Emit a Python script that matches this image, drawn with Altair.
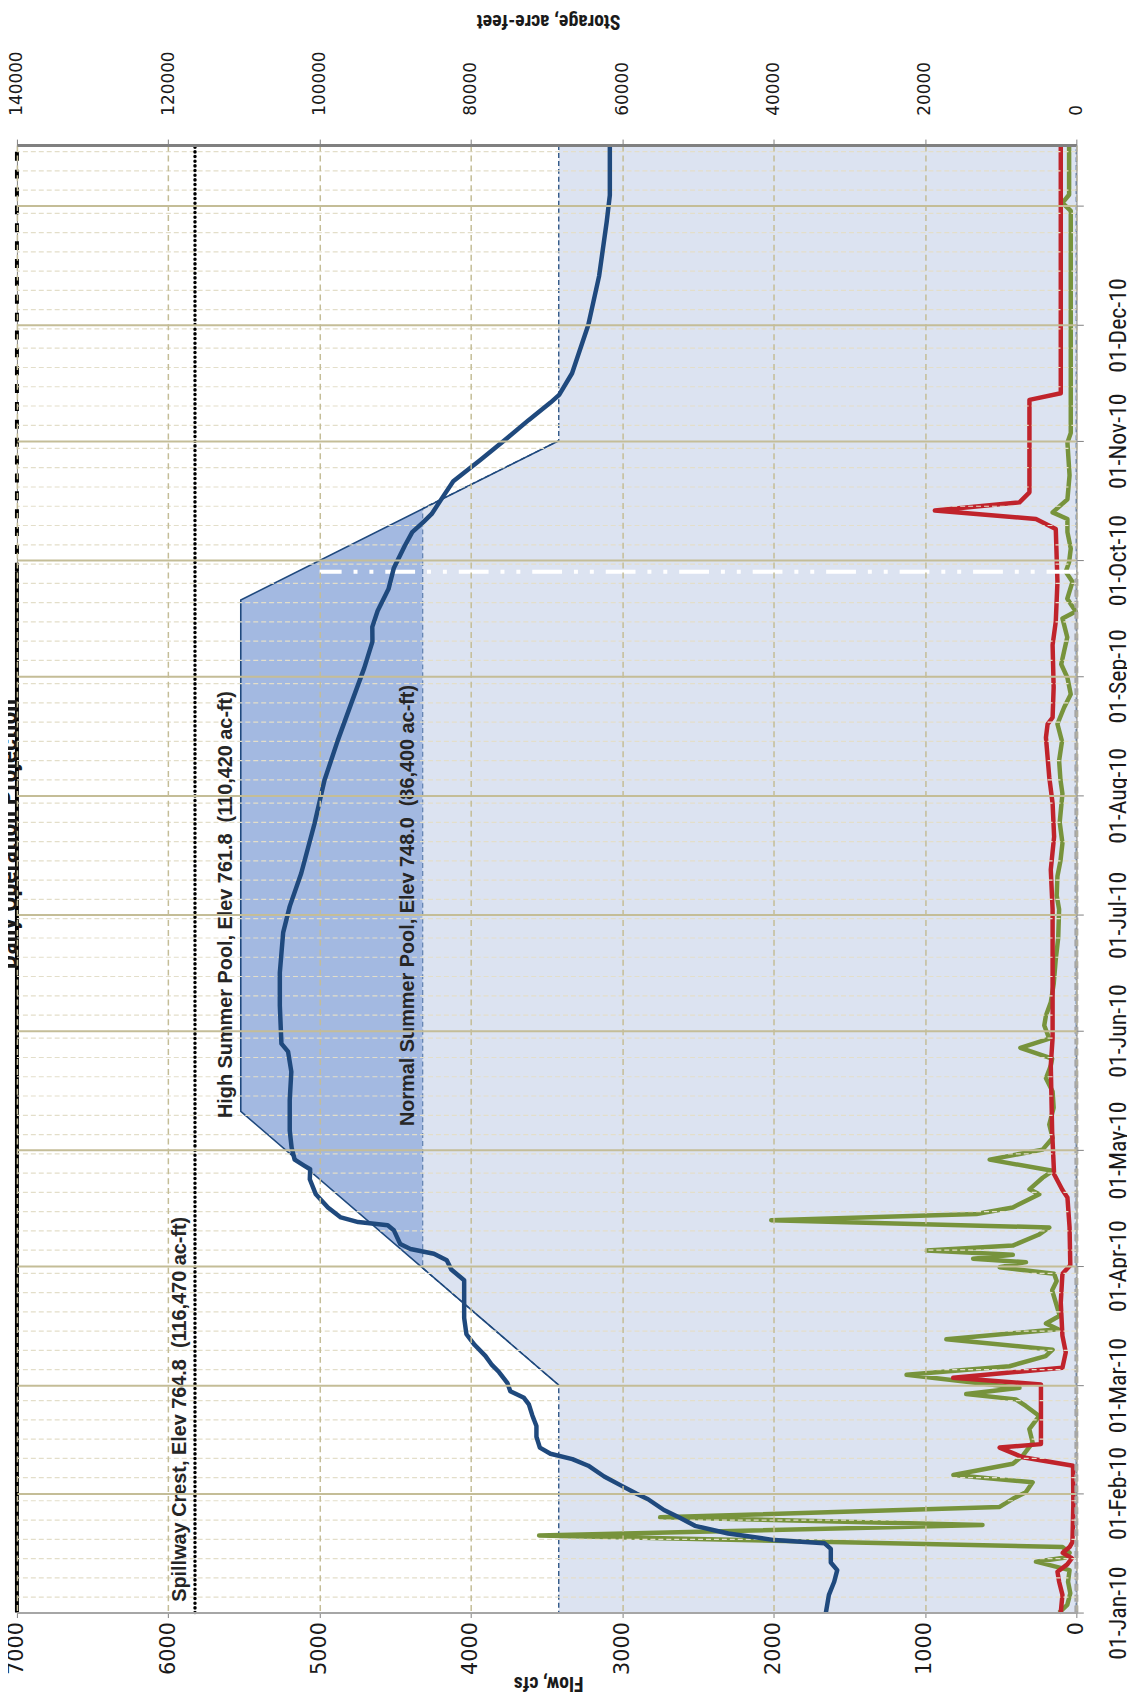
import altair as alt
import pandas as pd

BASE = pd.Timestamp("2010-01-01")


def to_dates(days):
    return [(BASE + pd.Timedelta(days=float(x))).strftime("%Y-%m-%dT%H:%M:%SZ") for x in days]


# ---------------- data ----------------
# Storage (acre-feet), secondary axis
STORAGE_DAYS = [0, 4.6, 8, 11, 13, 16.5, 18, 18.8, 20.5, 22.5, 24.6, 26.6, 29.4, 30.8, 33, 35.3,
                38.1, 39.8, 41.2, 42.8, 45.6, 48.4, 51.2, 54, 55.7, 57.4, 59.6, 62.4, 64.4, 66.6,
                69.4, 72.2, 76.4, 86.2, 89, 91.4, 93.1, 94.3, 95.6, 99.2, 100.5, 101.3, 102.5,
                105.1, 108.5, 112.4, 115, 115.9, 117.5, 120.6, 125, 133, 140.3, 145.5, 147.6,
                157.5, 166, 176.4, 183.2, 191.8, 204.7, 215.9, 226.2, 235.6, 245, 251.9, 255.7,
                259.9, 265.5, 271, 276.7, 280.3, 282.8, 285, 289.3, 293.5, 299, 304.7, 309.4,
                313.9, 315.9, 321.5, 334, 346.7, 360.7, 367.7, 380.7]
STORAGE_ACFT = [33100, 32700, 32000, 31600, 32450, 32450, 33300, 39900, 46000, 50400, 52400, 54500,
                56600, 58100, 60200, 62400, 64500, 66600, 69500, 70900, 71350, 71350, 71900, 72350,
                73000, 74800, 75200, 76300, 77300, 78100, 79500, 80600, 80900, 80900, 82600, 83200,
                84900, 88000, 89350, 90200, 91000, 94900, 97200, 98900, 100500, 101300, 101250,
                102000, 103300, 103700, 103950, 103950, 103740, 104170, 105050, 105260, 105260,
                104820, 103950, 102430, 100670, 99360, 97610, 95870, 94110, 93020, 93040, 92330,
                90900, 90190, 88760, 87760, 86330, 85190, 83760, 82340, 78770, 75200, 72350, 69490,
                68350, 66640, 64500, 63070, 62070, 61650, 61650]

# Inflow (cfs), primary axis
INFLOW_DAYS = [0, 2, 5, 8, 11, 13.2, 14.3, 15.5, 17, 20, 22.7, 24.7, 27.4, 29.5, 31.2, 33.8, 35.7,
               38.6, 40.7, 44.1, 47.6, 51, 53.6, 55.3, 56.7, 58.3, 61.7, 63.9, 66.5, 68.2, 70.9,
               73.5, 75, 77, 83.6, 86, 87.9, 89.6, 90.9, 91.8, 92.8, 93.9, 95.2, 98, 99.9, 101.8,
               103.4, 105.1, 108.5, 109.8, 112.8, 114.6, 117.5, 120.1, 123.1, 126.6, 131, 135.2,
               138.6, 142, 143.7, 146.5, 148.9, 152.3, 154.9, 158.3, 163, 169.5, 175, 182.4, 186,
               191, 195, 199.6, 205, 212.4, 216, 221, 226, 230.5, 234.8, 238.2, 242.5, 246, 249.4,
               253, 257.9, 259.7, 263, 267.4, 270, 272.5, 276, 280.3, 283.7, 285.4, 288.8, 295,
               303.5, 306, 335, 363.6, 365.7, 367.8, 380.7]
INFLOW_CFS = [114, 60, 40, 55, 45, 267, 70, 45, 92, 3550, 620, 2750, 507, 420, 334, 289, 813, 420,
              354, 289, 311, 245, 334, 400, 728, 376, 1122, 442, 203, 157, 859, 120, 201, 110, 160,
              130, 147, 507, 333, 682, 420, 989, 420, 250, 179, 2016, 660, 420, 245, 310, 223, 157,
              573, 223, 157, 179, 150, 157, 201, 168, 160, 370, 179, 212, 201, 169, 150, 136, 120,
              114, 130, 125, 105, 92, 110, 92, 105, 114, 95, 125, 81, 37, 59, 100, 81, 60, 92, 4,
              60, 26, 70, 48, 37, 59, 59, 157, 59, 45, 59, 37, 37, 37, 92, 48, 48]

# Outflow (cfs), primary axis
OUTFLOW_DAYS = [0, 4.6, 8, 10.6, 12.5, 14.1, 15.5, 17, 18.3, 28, 38.1, 40.3, 42.8, 43.7, 50, 59.2,
                60.9, 63.5, 67.5, 71.8, 80.4, 87.9, 90.1, 100, 107.7, 109.6, 113.7, 124.8, 142,
                149, 165, 182.4, 192.7, 201.3, 209.9, 216.7, 227, 230.5, 232.2, 240, 251, 257.1,
                267.4, 281.1, 283.7, 285.9, 288, 290.6, 314.6, 316.3, 340, 380.7]
OUTFLOW_CFS = [103, 92, 114, 125, 60, 30, 90, 45, 26, 20, 22, 354, 507, 234, 234, 234, 814, 92, 70,
               92, 103, 92, 40, 45, 59, 92, 147, 160, 169, 157, 157, 157, 169, 147, 157, 179, 201,
               190, 157, 150, 157, 136, 125, 136, 267, 935, 376, 310, 310, 103, 103, 103]

# Rule curves (acre-feet)
NORMAL_DAYS = [0, 59, 89.4, 286.4, 304, 380.7]
NORMAL_ACFT = [68400, 68400, 86400, 86400, 68400, 68400]
BAND_DAYS = [59, 89.4, 130, 262.7, 286.4, 304]
BAND_LOW = [68400, 86400, 86400, 86400, 86400, 68400]
BAND_HIGH = [68400, 86400, 110420, 110420, 86400, 68400]
HIGH_DAYS = [59, 130, 262.7, 304]
HIGH_ACFT = [68400, 110420, 110420, 68400]

SPILLWAY_ACFT = 116470
PERIOD_DAYS = [0, 380.7]
TODAY_DAY = 270
TODAY_CFS = [0, 5000]
FLOW_MAX = 7000

ANNOT_TEXT = ["Spillway Crest, Elev 764.8 \u00a0(116,470 ac-ft)",
              "High Summer Pool, Elev 761.8 \u00a0(110,420 ac-ft)",
              "Normal Summer Pool, Elev 748.0 \u00a0(86,400 ac-ft)"]
ANNOT_ACFT = [116470, 110420, 86400]
ANNOT_DAY = [2.8, 128.3, 126.2]

TITLE = "Daily Operation Projection"
FLOW_TICKS = [0, 1000, 2000, 3000, 4000, 5000, 6000, 7000]
STORAGE_TICKS = [0, 20000, 40000, 60000, 80000, 100000, 120000, 140000]

# ---------------- frames ----------------
storage_df = pd.DataFrame({"date": to_dates(STORAGE_DAYS), "day": STORAGE_DAYS, "acft": STORAGE_ACFT})
inflow_df = pd.DataFrame({"date": to_dates(INFLOW_DAYS), "day": INFLOW_DAYS, "cfs": INFLOW_CFS})
outflow_df = pd.DataFrame({"date": to_dates(OUTFLOW_DAYS), "day": OUTFLOW_DAYS, "cfs": OUTFLOW_CFS})
normal_df = pd.DataFrame({"date": to_dates(NORMAL_DAYS), "day": NORMAL_DAYS, "acft": NORMAL_ACFT})
band_df = pd.DataFrame({"date": to_dates(BAND_DAYS), "day": BAND_DAYS, "acft": BAND_LOW, "acft2": BAND_HIGH})
high_df = pd.DataFrame({"date": to_dates(HIGH_DAYS), "day": HIGH_DAYS, "acft": HIGH_ACFT})
spill_df = pd.DataFrame({"date": to_dates(PERIOD_DAYS), "day": PERIOD_DAYS, "acft": [SPILLWAY_ACFT] * 2})
edge_solid_df = pd.DataFrame({"date": to_dates([0, TODAY_DAY]), "day": [0, TODAY_DAY]})
edge_dash_df = pd.DataFrame({"date": to_dates([TODAY_DAY, PERIOD_DAYS[1]]), "day": [TODAY_DAY, PERIOD_DAYS[1]]})
today_df = pd.DataFrame({"date": to_dates([TODAY_DAY]), "cfs": [TODAY_CFS[0]], "cfs2": [TODAY_CFS[1]]})
annot_df = pd.DataFrame({"date": to_dates(ANNOT_DAY), "acft": ANNOT_ACFT, "t": ANNOT_TEXT})
title_df = pd.DataFrame({"t": [TITLE]})

month_starts = pd.date_range("2010-01-01", "2011-01-01", freq="MS")
minor_dates = []
for ms in month_starts:
    for dd in [5, 10, 15, 20, 25, 30]:
        if dd <= ms.days_in_month:
            dt = ms.replace(day=dd)
            if dt <= pd.Timestamp("2011-01-16"):
                minor_dates.append(dt.strftime("%Y-%m-%dT00:00:00Z"))
minor_df = pd.DataFrame({"date": minor_dates})

# ---------------- scales & axes ----------------
NARROW = "Liberation Sans Narrow, Roboto Condensed, DejaVu Sans Condensed, sans-serif"
WIDE = "DejaVu Sans, Verdana, sans-serif"
ANNOT_FONT = "Liberation Sans, Arial, sans-serif"

y_scale = alt.Scale(type="utc", nice=False,
                    domain=[alt.DateTime(year=2010, month=1, date=1, utc=True),
                            alt.DateTime(year=2011, month=1, date=16, hours=16, minutes=48, utc=True)])
y_axis = alt.Axis(orient="right", title=None,
                  values=[alt.DateTime(year=ms.year, month=ms.month, date=1, utc=True) for ms in month_starts],
                  labelExpr="utcyear(datum.value) > 2010 ? '' : utcFormat(datum.value, '%d-%b-%y')",
                  labelAngle=270, labelAlign="center", labelBaseline="top", labelPadding=23,
                  labelFont=NARROW, labelFontSize=24, labelColor="#1a1a1a", labelOverlap=False,
                  tickSize=7, tickColor="#808080", domainColor="#A6A6A6", domainWidth=1,
                  grid=True, gridColor="#C4BD97", gridWidth=2, zindex=1)


def Y():
    return alt.Y("date:T", scale=y_scale, axis=y_axis)


flow_scale = alt.Scale(domain=[0, FLOW_MAX], reverse=True, nice=False, zero=True)
flow_axis = alt.Axis(orient="bottom", values=FLOW_TICKS, format="d",
                     labelAngle=270, labelAlign="right", labelBaseline="middle", labelPadding=4,
                     labelFont=WIDE, labelFontSize=21, labelColor="#1a1a1a",
                     labelFlush=False, labelOverlap=False,
                     tickSize=5, tickColor="#808080", domainColor="#A6A6A6", domainWidth=2,
                     grid=True, gridColor="#C4BD97", gridDash=[6, 4], gridWidth=1.5,
                     title="Flow, cfs", titleAngle=180, titleX=535, titleY=70,
                     titleAlign="center", titleBaseline="middle", titleFont=NARROW,
                     titleFontSize=20, titleFontWeight="bold", titleColor="#1a1a1a", zindex=1)

stor_scale = alt.Scale(domain=[0, 140000], reverse=True, nice=False, zero=True)
stor_axis = alt.Axis(orient="top", values=STORAGE_TICKS, format="d",
                     labelAngle=270, labelAlign="left", labelBaseline="middle", labelPadding=24,
                     labelFont=WIDE, labelFontSize=17, labelColor="#1a1a1a",
                     labelFlush=False, labelOverlap=False,
                     tickSize=6, tickColor="#808080", domainColor="#808080", domainWidth=3,
                     grid=False,
                     title="Storage, acre-feet", titleAngle=180, titleX=535, titleY=-125,
                     titleAlign="center", titleBaseline="middle", titleFont=NARROW,
                     titleFontSize=20, titleFontWeight="bold", titleColor="#1a1a1a", zindex=1)


def XF(field="cfs"):
    return alt.X(f"{field}:Q", scale=flow_scale, axis=flow_axis)


def XS(field="acft", axis=True):
    return alt.X(f"{field}:Q", scale=stor_scale, axis=stor_axis if axis else None)


NAVY = "#1F497D"

# ---------------- storage (under) ----------------
light_area = alt.Chart(normal_df).mark_area(
    orient="horizontal", color="#DCE3F1", stroke=NAVY, strokeWidth=1.3, strokeDash=[5, 3]
).encode(y=Y(), x=XS(), x2=alt.datum(0))

band_area = alt.Chart(band_df).mark_area(
    orient="horizontal", color="#A3B9E1"
).encode(y=Y(), x=XS(), x2="acft2:Q")

high_edge = alt.Chart(high_df).mark_line(color=NAVY, strokeWidth=1.6).encode(
    y=Y(), x=XS(), order="day:Q")

storage_under = alt.layer(light_area, band_area, high_edge)

# ---------------- flow ----------------
green = alt.Chart(inflow_df).mark_line(color="#77933C", strokeWidth=4.5, strokeJoin="round").encode(
    y=Y(), x=XF(), order="day:Q")
red = alt.Chart(outflow_df).mark_line(color="#C0232B", strokeWidth=4.5, strokeJoin="round").encode(
    y=Y(), x=XF(), order="day:Q")
edge_black_solid = alt.Chart(edge_solid_df).mark_line(color="black", strokeWidth=4).encode(
    y=Y(), x=alt.X("fmax:Q", scale=flow_scale, axis=flow_axis), order="day:Q"
).transform_calculate(fmax=str(FLOW_MAX))
edge_black_dash = alt.Chart(edge_dash_df).mark_line(color="black", strokeWidth=4, strokeDash=[9, 9]).encode(
    y=Y(), x=alt.X("fmax:Q", scale=flow_scale, axis=flow_axis), order="day:Q"
).transform_calculate(fmax=str(FLOW_MAX))
edge_gray = alt.Chart(edge_solid_df).mark_line(color="#A6A6A6", strokeWidth=4, strokeDash=[7, 4]).encode(
    y=Y(), x=alt.X("f0:Q", scale=flow_scale, axis=flow_axis), order="day:Q"
).transform_calculate(f0="0")
today_line = alt.Chart(today_df).mark_rule(
    color="white", strokeWidth=4, strokeDash=[30, 12, 4, 12, 4, 12]
).encode(y=Y(), x=XF(), x2="cfs2:Q")

flow_group = alt.layer(green, red, edge_gray, edge_black_solid, edge_black_dash, today_line)

# ---------------- storage (over) ----------------
blue = alt.Chart(storage_df).mark_line(color=NAVY, strokeWidth=4.5, strokeJoin="round").encode(
    y=Y(), x=XS(axis=False), order="day:Q")
spill = alt.Chart(spill_df).mark_line(color="black", strokeWidth=3.5, strokeDash=[0.1, 4.6],
                                      strokeCap="round").encode(
    y=Y(), x=XS(axis=False), order="day:Q")
annots = alt.Chart(annot_df).mark_text(
    angle=270, align="left", baseline="alphabetic", dy=-9, font=ANNOT_FONT, fontSize=20,
    fontWeight="bold", color="#262626"
).encode(y=Y(), x=XS(axis=False), text="t:N")
minor_grid = alt.Chart(minor_df).mark_rule(color="#E3DEC9", strokeWidth=1.2, strokeDash=[5, 3]).encode(
    y=Y())
title_txt = alt.Chart(title_df).mark_text(
    angle=270, align="center", baseline="bottom", font=NARROW, fontSize=26, fontWeight="bold",
    color="#1a1a1a"
).encode(x=alt.value(5), y=alt.value(694), text="t:N")

storage_over = alt.layer(minor_grid, blue, spill, annots, title_txt)

chart = alt.layer(storage_under, flow_group, storage_over).resolve_scale(
    x="independent"
).properties(
    width=1067, height=1478,
    padding={"left": 9, "top": 132, "right": 51, "bottom": 78},
    autosize=alt.AutoSizeParams(type="none"),
    background="white",
).configure_view(stroke="#808080", strokeWidth=1)

chart.save("out.html", embed_options={"renderer": "svg", "actions": False})
